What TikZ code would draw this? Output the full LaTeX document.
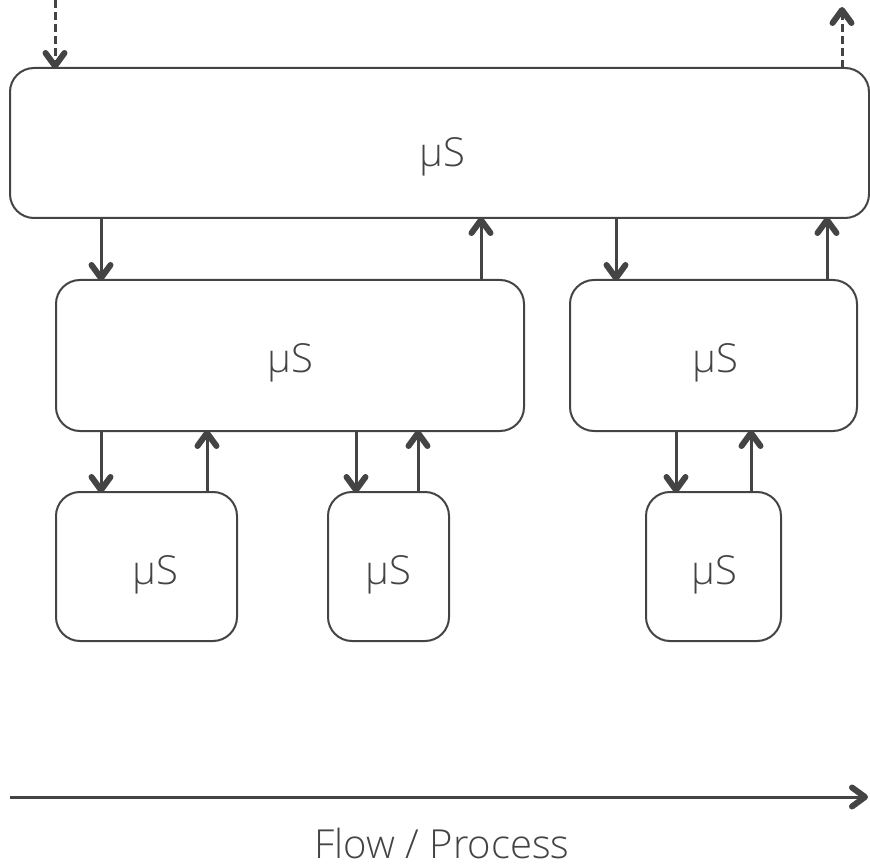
\documentclass[tikz,border=0pt]{standalone}
\usepackage{fontspec}
\setmainfont{Open Sans}[UprightFont={* Light}]
\usetikzlibrary{decorations.markings}
\definecolor{ink}{HTML}{444444}
\tikzset{
  svc/.style={draw=ink, line width=2pt, rounded corners=24pt, inner sep=0pt},
  lbl/.style={text=ink, font=\fontsize{40}{48}\selectfont},
  % bold chevron head placed at the end of a connector
  link/.style={draw=ink, line width=3pt,
    postaction={decorate, decoration={markings, mark=at position 1 with {
      \draw[ink, solid, line width=6pt, line cap=round, line join=round]
        (-15,-9.5) -- (-2,0) -- (-15,9.5);}}}},
  dlink/.style={link, dash pattern=on 8pt off 4pt},
}
\begin{document}
\begin{tikzpicture}[x=1pt, y=-1pt]
  \useasboundingbox (0,0) rectangle (870,866);

  % service boxes
  \draw[svc] (10,68) rectangle (869,218);
  \node[lbl] (top) at (442,157) {µS};

  \draw[svc] (56,280) rectangle (524,431);
  \node[lbl] (midA) at (290,363) {µS};
  \draw[svc] (570,280) rectangle (857,431);
  \node[lbl] (midB) at (715,363) {µS};

  \draw[svc] (56,492) rectangle (237,641);
  \node[lbl] (botA) at (155,575) {µS};
  \draw[svc] (328,492) rectangle (449,641);
  \node[lbl] (botB) at (388,575) {µS};
  \draw[svc] (646,492) rectangle (781,641);
  \node[lbl] (botC) at (714,575) {µS};

  % external in / out
  \coordinate (inS) at (55,0);
  \coordinate (inE) at (55,68);
  \coordinate (outS) at (842,68);
  \coordinate (outE) at (842,8);
  \draw[dlink] (inS) -- (inE);
  \draw[dlink] (outS) -- (outE);

  % top <-> middle
  \coordinate (a1) at (101,218); \coordinate (a2) at (101,280);
  \coordinate (b1) at (481,280); \coordinate (b2) at (481,218);
  \coordinate (c1) at (616,218); \coordinate (c2) at (616,280);
  \coordinate (d1) at (827,280); \coordinate (d2) at (827,218);
  \draw[link] (a1) -- (a2);
  \draw[link] (b1) -- (b2);
  \draw[link] (c1) -- (c2);
  \draw[link] (d1) -- (d2);

  % middle <-> bottom
  \coordinate (e1) at (101,431); \coordinate (e2) at (101,492);
  \coordinate (f1) at (207,492); \coordinate (f2) at (207,431);
  \coordinate (g1) at (356,431); \coordinate (g2) at (356,492);
  \coordinate (h1) at (418,492); \coordinate (h2) at (418,431);
  \coordinate (i1) at (676,431); \coordinate (i2) at (676,492);
  \coordinate (j1) at (751,492); \coordinate (j2) at (751,431);
  \draw[link] (e1) -- (e2);
  \draw[link] (f1) -- (f2);
  \draw[link] (g1) -- (g2);
  \draw[link] (h1) -- (h2);
  \draw[link] (i1) -- (i2);
  \draw[link] (j1) -- (j2);

  % flow axis
  \coordinate (flowS) at (10,797);
  \coordinate (flowE) at (867,797);
  \draw[link] (flowS) -- (flowE);
  \node[lbl] (flow) at (442,843) {Flow / Process};
\end{tikzpicture}
\end{document}
